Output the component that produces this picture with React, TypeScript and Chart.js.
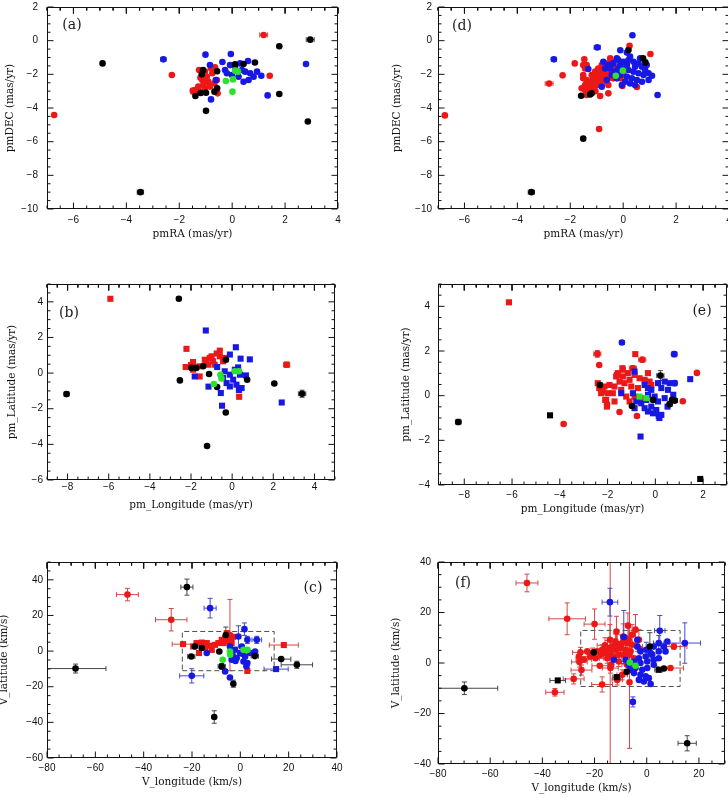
import React, { useEffect, useRef } from "react";
import { Chart, registerables } from "chart.js";

Chart.register(...registerables);

// Each point: [x, y, xError?, yError?]
type P = number[];

// ---------- (a) pmRA / pmDEC, first sample ----------
const aBlack: P[] = [
  [-4.9, -1.35], [-3.47, -9.0, 0.12, 0], [2.95, 0.06, 0.15, 0.05], [1.78, -0.33], [1.78, -3.17],
  [2.86, -4.8], [-0.99, -4.17], [0.86, -1.3], [-1.39, -3.29], [-1.19, -3.11], [-0.99, -3.09],
  [-0.67, -3.03], [-0.57, -2.83], [-1.15, -2.0], [-0.57, -1.82], [0.11, -1.4], [0.43, -1.39], [-1.1, -1.75],
];
const aRed: P[] = [
  [-6.73, -4.42, 0.06, 0], [1.19, 0.34, 0.15, 0], [-2.28, -2.04], [1.42, -2.08],
  [-1.25, -1.74], [-1.03, -1.84], [-0.8, -1.64], [-0.65, -1.58], [-0.75, -1.94], [-0.96, -2.14],
  [-1.13, -2.34], [-0.9, -2.44], [-1.09, -2.63], [-1.28, -2.73], [-1.41, -2.93], [-1.22, -3.03],
  [-1.03, -2.83], [-0.84, -2.73], [-0.67, -2.53], [-0.58, -2.34], [-1.47, -3.03], [-0.55, -3.13],
  [-1.49, -2.97], [-1.2, -2.2], [-1.05, -2.45],
];
const aBlue: P[] = [
  [-2.6, -1.11, 0.1, 0], [-1.01, -0.83], [-0.05, -0.79], [-0.37, -1.27], [0.6, -1.21], [2.79, -1.39],
  [1.34, -3.25], [1.1, -2.08], [-0.8, -3.49], [-0.84, -1.45], [-0.62, -2.34],
  [-0.27, -1.74], [-0.08, -1.45], [0.11, -1.55], [0.3, -1.35], [0.49, -1.84], [0.68, -1.94],
  [0.81, -2.14], [0.62, -2.34], [0.43, -2.44], [0.24, -2.14], [-0.01, -2.04], [-0.2, -1.94],
  [0.37, -1.74], [0.94, -1.84],
];
const aGreen: P[] = [[0.11, -1.78], [0.22, -1.84], [-0.24, -2.4], [0.03, -2.3], [0.01, -3.03]];

// ---------- (d) pmRA / pmDEC, full sample ----------
const dBlack: P[] = [
  [-3.47, -9.0, 0.12, 0], [-1.51, -5.82], [-1.59, -3.27], [-1.19, -3.13], [0.2, -0.55],
  [0.75, -1.05], [0.84, -1.29], [-1.25, -3.2],
];
const dRed: P[] = [
  [-6.74, -4.44, 0.06, 0], [-0.91, -5.25], [-2.8, -2.55, 0.15, 0], [-2.29, -2.06], [-1.83, -1.35],
  [-1.47, -1.11], [-1.51, -1.45], [0.24, -0.3], [1.03, -0.79], [0.52, -2.75], [-0.03, -2.69],
  [-0.56, -3.13], [-0.87, -3.29], [-0.56, -2.63],
  [-1.44, -2.93], [-1.32, -2.83], [-1.19, -2.73], [-1.25, -2.44], [-1.13, -2.54], [-1.0, -2.44],
  [-1.06, -2.24], [-0.94, -2.14], [-0.81, -2.04], [-0.87, -1.84], [-0.75, -1.74], [-0.62, -1.65],
  [-0.68, -1.45], [-0.56, -1.35], [-0.43, -1.25], [-0.49, -1.55], [-0.37, -1.45], [-0.3, -1.65],
  [-0.43, -1.84], [-0.62, -2.04], [-0.75, -2.24], [-0.87, -2.34], [-1.0, -2.64], [-1.13, -2.93],
  [-1.32, -3.13], [-1.19, -3.03], [-1.44, -2.64], [-1.38, -2.34], [-1.19, -2.04], [-1.06, -1.84],
  [-0.94, -1.65], [-0.81, -1.45], [-1.51, -2.04], [-1.44, -1.65], [-1.38, -3.23], [-0.81, -2.54],
  [-0.68, -1.94], [-0.49, -1.05], [-0.24, -1.84], [-0.11, -2.24], [0.01, -2.04], [-0.37, -2.24],
  [-0.56, -2.24], [-1.38, -1.45], [-1.51, -2.24], [-1.57, -2.83], [-1.3, -2.6], [-1.1, -2.7],
  [-0.9, -2.6], [-0.7, -2.4], [-0.5, -2.0], [-0.95, -1.95], [-1.15, -2.35], [-1.25, -2.85],
  [-1.05, -3.0], [-0.7, -1.8], [-0.55, -1.7], [-0.4, -1.55],
];
const dBlue: P[] = [
  [-2.62, -1.11, 0.1, 0], [-0.98, -0.4, 0.12, 0], [0.35, 0.32], [-0.11, -0.57], [0.14, -0.71],
  [1.3, -3.23], [1.09, -2.08], [-1.32, -1.68], [-0.81, -2.74], [-0.62, -2.34],
  [-0.75, -1.25], [-0.56, -1.45], [-0.37, -1.35], [-0.18, -1.15], [0.01, -1.25], [0.2, -1.15],
  [0.39, -1.25], [0.58, -1.35], [0.71, -1.55], [0.83, -1.74], [0.96, -1.94], [0.77, -2.04],
  [0.58, -1.94], [0.39, -1.84], [0.2, -1.74], [0.01, -1.65], [-0.18, -1.65], [-0.3, -1.84],
  [-0.11, -2.04], [0.14, -2.14], [0.33, -2.24], [0.52, -2.34], [0.71, -2.44], [0.45, -2.64],
  [0.26, -2.54], [0.07, -2.44], [-0.24, -2.24], [0.89, -1.45], [0.64, -1.05], [0.26, -0.95],
  [-0.49, -1.65], [-0.11, -1.45], [0.14, -1.45], [0.45, -1.55], [-0.05, -2.64], [-0.24, -1.05],
  [-0.68, -1.65], [-0.43, -2.04], [0.96, -2.34],
];
const dGreen: P[] = [[-0.01, -1.78], [-0.28, -2.08]];

// ---------- (b) pm_Longitude / pm_Latitude, first sample ----------
const bBlack: P[] = [
  [-2.59, 4.17], [-8.05, -1.18, 0.12, 0.12], [3.4, -1.16, 0.18, 0.2], [2.05, -0.58], [-0.31, -2.21],
  [-1.22, -4.09], [-2.54, -0.41], [-1.12, -0.05], [-0.73, -0.78], [0.73, -0.37], [-1.74, 0.29],
  [-1.41, 0.38], [-1.98, 0.29], [-0.3, 0.75],
];
const bRed: P[] = [
  [-5.92, 4.17], [-2.22, 1.36], [2.65, 0.47, 0.15, 0.15], [0.34, -1.33], [-2.26, 0.34], [-1.9, 0.62],
  [-1.9, 0.19], [-1.58, 0.38], [-1.58, -0.19], [-1.33, 0.75], [-1.09, 0.85], [-0.93, 0.66],
  [-0.6, 1.26], [-0.6, 0.94], [-1.17, 0.47], [-0.85, 0.47], [-0.44, 0.66], [-0.36, 0.85],
  [-1.0, 0.94], [-1.25, 0.66], [-0.75, 1.1], [-2.0, 0.45],
];
const bBlue: P[] = [
  [-1.28, 2.39, 0.08, 0], [0.18, 1.45], [-0.11, 1.04], [0.41, 0.81], [0.86, 0.77], [-0.73, 0.34],
  [-1.82, -0.19], [-1.15, -0.76], [-0.55, -1.12], [-0.49, -1.83], [2.41, -1.65], [-0.36, 0.1],
  [-0.11, -0.09], [0.13, 0.19], [0.29, 0.32], [0.38, -0.09], [0.05, -0.37], [-0.27, -0.56],
  [-0.11, -0.75], [0.21, -0.65], [0.46, -0.84], [0.67, -0.13], [-0.44, -0.28], [0.33, -0.95],
];
const bGreen: P[] = [[-0.57, -0.09], [-0.52, -0.3], [-0.89, -0.61], [0.13, 0.1], [0.33, 0.1]];

// ---------- (e) pm_Longitude / pm_Latitude, full sample ----------
const eBlack: P[] = [
  [-8.25, -1.18, 0.12, 0.12], [0.21, 0.9, 0.15, 0.22], [0.81, -0.22, 0.12, 0.1], [0.6, -0.38, 0.1, 0.08],
  [-0.98, -0.46], [-2.32, 0.48, 0.1, 0.08], [0.7, -0.19], [-0.1, -0.19],
];
const eBlackSq: P[] = [[-4.41, -0.88], [1.88, -3.73]];
const eRed: P[] = [
  [-2.43, 1.87, 0.15, 0.15], [-2.35, 1.37], [-3.84, -1.27], [1.74, 1.02], [1.15, -0.25],
  [-1.5, -0.73], [-0.77, -0.91], [-0.55, 1.61, 0.15, 0.12], [-0.94, 1.23, 0.15, 0.12],
];
const eRedSq: P[] = [
  [-6.13, 4.18], [-0.84, 1.86],
  [-1.57, 1.01], [-1.36, 0.86], [-1.15, 1.01], [-0.87, 0.93], [-0.66, 0.78], [-0.45, 0.71],
  [-0.24, 0.63], [-1.5, 0.63], [-1.29, 0.56], [-1.08, 0.71], [-1.01, 0.41], [-0.73, 0.34],
  [-1.43, 0.26], [-1.71, 0.41], [-1.92, 0.48], [-2.13, 0.41], [-2.35, 0.34], [-2.41, 0.56],
  [-2.27, 0.11], [-1.99, 0.11], [-2.06, -0.19], [-2.02, -0.41], [-1.71, -0.26], [-1.22, -0.04],
  [-0.87, -0.04], [-1.08, -0.26], [-0.59, -0.11], [-1.78, 0.11], [-1.64, 0.86], [-1.36, 1.16],
  [-0.31, 1.01], [-0.17, 0.48], [-2.2, 0.18], [-2.1, -0.19], [-2.03, -0.49], [-1.61, 0.93],
  [-1.38, 1.23],
];
const eBlue: P[] = [[-1.4, 2.38, 0.1, 0.08], [0.79, 1.86, 0.12, 0.12], [0.81, 0.56, 0.1, 0.12]];
const eBlueSq: P[] = [
  [-0.62, -1.83], [1.46, 0.74], [-0.87, 1.08], [-0.45, 0.48], [-0.17, 0.26], [0.11, 0.56],
  [0.39, 0.63], [0.6, 0.56], [0.25, 0.34], [0.53, 0.26], [0.75, 0.04], [-0.31, 0.04],
  [-0.03, -0.04], [0.11, -0.26], [-0.59, -0.34], [-0.45, -0.56], [-0.17, -0.49], [0.04, -0.64],
  [0.25, -0.86], [-0.1, -0.79], [-0.31, -0.71], [-0.8, -0.26], [-0.87, -0.56], [-1.43, 0.11],
  [-0.94, 0.11], [-0.38, -0.19], [0.39, -0.11], [0.51, -0.49], [-0.31, 0.34], [0.14, -0.91],
  [0.17, -1.0],
];
const eGreenSq: P[] = [[-0.66, -0.04], [-0.38, -0.11]];

// ---------- (c) V_longitude / V_latitude, first sample ----------
const cBlack: P[] = [
  [-68.2, -9.8, 12.6, 2.5], [-22.1, 35.9, 2.5, 4.5], [-10.8, -37, 0, 3.5], [-2.9, -18.3, 0, 2],
  [16.9, -4.5, 4, 0], [23.4, -7.7, 6.5, 2], [-7.7, -8.6, 1.5, 1.5], [-20.3, -3.0, 1.5, 0],
  [6.0, -2.8, 1.5, 0], [-18.8, 2.6], [-16, 1.7], [-8.7, -0.2], [-6, 9, 0, 4.5],
];
const cRed: P[] = [[-46.7, 31.7, 4.5, 3.5], [-28.6, 17.6, 6.5, 6.3], [-4.3, 9, 0, 20]];
const cRedSq: P[] = [
  [18, 3.4, 6, 0], [-23.7, 3.9, 4.5, 0], [2.9, -11.1, 0, 1.5], [-19.5, 2.6], [-18.1, 4.5], [-16, 4.8],
  [-13.9, 4.5], [-12.5, 3], [-10.5, 3.5], [-11.8, 0.7], [-9.1, 4.5], [-7.7, 6.3], [-6.3, 7.3],
  [-5, 7.9], [-4, 6.3], [-7, 4.5], [-3.6, 4.5], [-5.6, 10.1], [-17.1, -1.1], [-14.5, 2],
  [-6, 5.5], [-4.5, 5], [-3, 8],
];
const cBlue: P[] = [
  [-12.5, 24.1, 2.5, 5.5], [-20.1, -13.9, 5, 4], [6.8, 6.3, 2, 2], [1.7, 12.3, 0, 3.5], [-0.8, 8.2, 0, 6],
  [2.9, 6.3, 0, 2], [-4.3, 2.6], [-2.2, 0.7], [-0.1, -1.1], [2, -3], [4.1, -1.1], [6.1, -0.2],
  [0.6, 2.6], [-1.5, -3.9], [-3.6, -4.9], [1.3, -5.8], [2.9, -6.7], [-13.9, -1.1], [-6.3, -11.4],
  [-4.3, -14.8], [-2, -5.5], [-3.2, -2.3], [0.8, -1.5], [2.5, -8.5],
];
const cBlueSq: P[] = [[14.8, -10.1, 5, 0]];
const cGreen: P[] = [[-7.3, -4.9], [-4.3, -0.2], [-4.2, -2], [1.3, 0.7], [3, 0.7]];
const cBoxX = [-24, 14];
const cBoxY = [-11, 11];

// ---------- (f) V_longitude / V_latitude, full sample ----------
const fBlack: P[] = [
  [-69.9, -10, 12.8, 2.5], [15.5, -31.8, 3.5, 3], [-20.3, 4.2, 2, 0], [-7.7, -3.5], [1.2, 6.5, 0, 5.5],
  [6.6, -2.2, 2, 0],
];
const fBlackSq: P[] = [[-34.1, -6.9, 3, 0], [-11.5, -5.6, 1.5, 0], [4.6, -2.7, 1.5, 0]];
const fRed: P[] = [
  [-45.9, 31.7, 4.2, 3.5], [-30.5, 17.5, 7, 6.3], [-20, 15.4, 4, 6], [-35.2, -11.6, 3.5, 1.5],
  [-28, -6.3, 4, 2], [-17.1, -8.5, 4, 3], [-25, -2.8, 4, 2], [-25.8, 0.4, 3, 2], [-25.4, 4.2, 3, 2],
  [-18, -1.1, 3, 0], [-13.9, -2.0, 3, 2], [-9.4, -4.7, 2, 2], [-11.3, -6.7, 2, 2], [-6.6, -7.6],
  [-4.3, 13.2, 0, 6], [-7.2, 14.8, 0, 5], [-11.6, 12.5, 0, 6], [-9, 10.5, 0, 5], [-14.1, 9.2, 0, 6],
  [-6.9, 9.2, 0, 5], [-3, 9.2, 0, 4], [9.1, -2, 5, 0], [10.4, 6.5, 5, 1], [-14, 3.5, 0, 50],
  [-6.6, 3.3, 0, 37.1],
  [-22.8, 4.6, 3, 0], [-20.9, 3.9, 2, 2], [-19, 4.6], [-17.1, 5.2, 3, 2], [-15.1, 5.9, 2, 3],
  [-13.2, 6.5, 2, 3], [-11.3, 7.2, 2, 4], [-9.4, 7.9, 2, 3], [-7.5, 7.9, 2, 3], [-5.6, 7.2],
  [-3.6, 6.5, 2, 2], [-2.4, 5.2], [-21.6, 2.6, 4, 0], [-19.6, 1.9, 3, 0], [-17.7, 3.3], [-15.8, 3.9],
  [-13.9, 4.6], [-11.9, 5.2, 2, 3], [-10, 5.9], [-8.1, 5.2, 2, 2], [-6.2, 4.6], [-12.6, 2.6, 3, 2],
  [-10.7, 3.3], [-8.8, 3.3], [-15.1, 1.9, 3, 2], [-24.1, 1.3, 3, 0], [-26, 2.6], [-10.7, 0.6, 2, 2],
  [-4.9, 1.9], [-13.6, -0.7], [-7.5, -0.7, 2, 2], [-5.6, 11.2, 0, 4], [-12, 8.5, 2, 3], [-8, 9.5],
  [-16, 7, 3, 3],
];
const fBlue: P[] = [
  [-14.1, 24.1, 3, 5.5], [5, 12.8, 2, 6], [14.6, 7.9, 6, 8], [-5.3, -15.4, 0, 2], [-8.8, 10.3, 1, 10.5],
  [-12.6, 1.3],
  [-3.6, 6.5], [-2.4, 4.6], [-0.2, 5.2, 2, 3], [2.7, 6.5], [4.6, 7.9, 2, 3], [6.6, 6.5], [7.2, 4.6],
  [4.6, 4.6], [2.1, 3.3], [-0.4, 2.6], [-3, 1.9], [-4.9, 0.6], [-2.4, 0], [0.2, 0.6], [2.7, 1.3],
  [4.6, 1.9], [-4.3, -2], [-1.7, -2.7], [0.2, -2], [-4.9, -4], [-2.4, -4.7], [-0.4, -5.3],
  [-3, -6.7], [-1.1, -7.3], [1.5, -8.3], [0.8, -6], [-6.2, -2.7], [-6.9, -0.7], [-8.1, 1.3],
  [2.7, -0.7], [1.5, 3.9], [-3.6, 9.2], [7.9, 8.5],
];
const fGreen: P[] = [[-6.5, 0.2], [-4.3, -1.1]];
const fBoxX = [-25.3, 12.8];
const fBoxY = [-9.3, 12.9];

// ---------- tick values ----------
const raTicks = [-6, -4, -2, 0, 2, 4];
const decTicks = [-10, -8, -6, -4, -2, 0, 2];
const bLonTicks = [-8, -6, -4, -2, 0, 2, 4];
const bLatTicks = [-6, -4, -2, 0, 2, 4];
const eLonTicks = [-8, -6, -4, -2, 0, 2];
const eLatTicks = [-4, -2, 0, 2, 4];
const cVlTicks = [-80, -60, -40, -20, 0, 20, 40];
const cVbTicks = [-60, -40, -20, 0, 20, 40];
const fVlTicks = [-80, -60, -40, -20, 0, 20];
const fVbTicks = [-40, -20, 0, 20, 40];

const RED = "rgb(236,24,24)";
const RED_BAR = "rgb(214,72,72)";
const BLUE = "rgb(24,24,228)";
const BLUE_BAR = "rgb(72,72,208)";
const BLACK = "rgb(0,0,0)";
const BLACK_BAR = "rgb(70,70,70)";
const GREEN = "rgb(44,226,44)";
const INK = "#111";

const TICK_FONT = { family: '"Liberation Sans", Arial, sans-serif', size: 10, lineHeight: 1.2 };
const TITLE_FONT = { family: '"DejaVu Serif", serif', size: 10.5, lineHeight: 1.2 };

type Style = "circle" | "rect";
interface Series { pts: P[]; color: string; bar: string; style: Style; order: number }
interface PanelSpec {
  id: string;
  canvas: [number, number, number, number];
  area: [number, number, number, number];
  x: [number, number];
  y: [number, number];
  xTicks: number[];
  yTicks: number[];
  xMajor: number;
  yMajor: number;
  xMinor: number;
  yMinor: number;
  xTitle: string;
  yTitle: string;
  tag: string;
  tagRight: boolean;
  tagDx: number;
  tagDy: number;
  xLabelY: number;
  xTitleY: number;
  yTitleX: number;
  yGap: number;
  series: Series[];
  box?: [number[], number[]];
}

const red = (pts: P[], style: Style = "circle"): Series => ({ pts, color: RED, bar: RED_BAR, style, order: 3 });
const blue = (pts: P[], style: Style = "circle"): Series => ({ pts, color: BLUE, bar: BLUE_BAR, style, order: 2 });
const black = (pts: P[], style: Style = "circle"): Series => ({ pts, color: BLACK, bar: BLACK_BAR, style, order: 1 });
const green = (pts: P[], style: Style = "circle"): Series => ({ pts, color: GREEN, bar: GREEN, style, order: 0 });

const panels: PanelSpec[] = [
  {
    id: "a", canvas: [-10, 0, 374, 250], area: [47, 7, 338, 209],
    x: [-7, 4], y: [-10, 2], xTicks: raTicks, yTicks: decTicks, xMajor: 2, yMajor: 2, xMinor: 0.5, yMinor: 0.5,
    xTitle: "pmRA (mas/yr)", yTitle: "pmDEC (mas/yr)", tag: "(a)", tagRight: false, tagDx: 25, tagDy: 18,
    xLabelY: 220, xTitleY: 234, yTitleX: 10, yGap: 9,
    series: [red(aRed), black(aBlack), blue(aBlue), green(aGreen)],
  },
  {
    id: "d", canvas: [364, 0, 400, 250], area: [438, 7, 729, 209],
    x: [-7, 4], y: [-10, 2], xTicks: raTicks, yTicks: decTicks, xMajor: 2, yMajor: 2, xMinor: 0.5, yMinor: 0.5,
    xTitle: "pmRA (mas/yr)", yTitle: "pmDEC (mas/yr)", tag: "(d)", tagRight: false, tagDx: 24, tagDy: 19,
    xLabelY: 220, xTitleY: 234, yTitleX: 397, yGap: 6,
    series: [red(dRed), black(dBlack), blue(dBlue), green(dGreen)],
  },
  {
    id: "b", canvas: [-10, 250, 374, 275], area: [47, 284, 335, 480],
    x: [-9, 5], y: [-6, 5], xTicks: bLonTicks, yTicks: bLatTicks, xMajor: 2, yMajor: 2, xMinor: 0.5, yMinor: 0.5,
    xTitle: "pm_Longitude (mas/yr)", yTitle: "pm_Latitude (mas/yr)", tag: "(b)", tagRight: false, tagDx: 22, tagDy: 29,
    xLabelY: 487.5, xTitleY: 505.5, yTitleX: 12.5, yGap: 4,
    series: [red(bRed, "rect"), black(bBlack), blue(bBlue, "rect"), green(bGreen)],
  },
  {
    id: "e", canvas: [364, 250, 380, 275], area: [438, 284, 727, 485],
    x: [-9.1, 3], y: [-4, 5], xTicks: eLonTicks, yTicks: eLatTicks, xMajor: 2, yMajor: 2, xMinor: 0.5, yMinor: 0.5,
    xTitle: "pm_Longitude (mas/yr)", yTitle: "pm_Latitude (mas/yr)", tag: "(e)", tagRight: true, tagDx: 25, tagDy: 27,
    xLabelY: 495, xTitleY: 509.3, yTitleX: 406, yGap: 8,
    series: [
      red(eRedSq, "rect"), red(eRed), black(eBlack), black(eBlackSq, "rect"),
      blue(eBlueSq, "rect"), blue(eBlue), green(eGreenSq, "rect"),
    ],
  },
  {
    id: "c", canvas: [-10, 530, 374, 268], area: [47, 562, 337, 758],
    x: [-80, 40], y: [-60, 50], xTicks: cVlTicks, yTicks: cVbTicks, xMajor: 20, yMajor: 20, xMinor: 5, yMinor: 5,
    xTitle: "V_longitude (km/s)", yTitle: "V_latitude (km/s)", tag: "(c)", tagRight: true, tagDx: 24, tagDy: 26,
    xLabelY: 768, xTitleY: 782, yTitleX: 4, yGap: 4,
    series: [red(cRedSq, "rect"), red(cRed), black(cBlack), blue(cBlue), blue(cBlueSq, "rect"), green(cGreen)],
    box: [cBoxX, cBoxY],
  },
  {
    id: "f", canvas: [364, 530, 380, 268], area: [438, 562, 725, 764],
    x: [-80, 30], y: [-40, 40], xTicks: fVlTicks, yTicks: fVbTicks, xMajor: 20, yMajor: 20, xMinor: 5, yMinor: 5,
    xTitle: "V_longitude (km/s)", yTitle: "V_latitude (km/s)", tag: "(f)", tagRight: false, tagDx: 25, tagDy: 21,
    xLabelY: 774, xTitleY: 788, yTitleX: 396, yGap: 7,
    series: [red(fRed), black(fBlack), black(fBlackSq, "rect"), blue(fBlue), green(fGreen)],
    box: [fBoxX, fBoxY],
  },
];

const fmt = (v: number | string) => {
  const n = Number(v);
  return n < 0 ? "\u2212" + Math.abs(n) : String(n);
};

type XY = { x: number; y: number | null };

// Outline of the plot box plus inward major/minor ticks on all four sides,
// expressed in data units so the library's scales place every segment.
function frameSegments(spec: PanelSpec): XY[] {
  const [al, at, ar, ab] = spec.area;
  const [x0, x1] = spec.x;
  const [y0, y1] = spec.y;
  const ux = (x1 - x0) / (ar - al);
  const uy = (y1 - y0) / (ab - at);
  const out: XY[] = [];
  const gap = (x: number) => out.push({ x, y: null });
  const each = (min: number, max: number, minor: number, major: number, fn: (v: number, len: number) => void) => {
    const n0 = Math.ceil(min / minor - 1e-6);
    const n1 = Math.floor(max / minor + 1e-6);
    for (let n = n0; n <= n1; n++) {
      const v = n * minor;
      const r = v / major;
      fn(v, Math.abs(r - Math.round(r)) < 1e-6 ? 6 : 3);
    }
  };
  const fx0 = x0 + 0.5 * ux;
  const fx1 = x1 - 0.5 * ux;
  const fy0 = y0 + 0.5 * uy;
  const fy1 = y1 - 0.5 * uy;
  out.push({ x: fx0, y: fy0 }, { x: fx1, y: fy0 }, { x: fx1, y: fy1 }, { x: fx0, y: fy1 }, { x: fx0, y: fy0 });
  gap(fx0);
  each(x0, x1, spec.xMinor, spec.xMajor, (v, len) => {
    out.push({ x: v, y: fy0 }, { x: v, y: fy0 + len * uy });
    gap(v);
    out.push({ x: v, y: fy1 }, { x: v, y: fy1 - len * uy });
    gap(v);
  });
  each(y0, y1, spec.yMinor, spec.yMajor, (v, len) => {
    out.push({ x: fx0, y: v }, { x: fx0 + len * ux, y: v });
    gap(fx0);
    out.push({ x: fx1, y: v }, { x: fx1 - len * ux, y: v });
    gap(fx1);
  });
  return out;
}

// Error bars with end caps under the markers, and the panel tag on top.
function makeDecorPlugin(spec: PanelSpec) {
  return {
    id: "decor" + spec.id,
    beforeDatasetsDraw(chart: any) {
      const { ctx, chartArea: a } = chart;
      const xs = chart.scales.x;
      const ys = chart.scales.y;
      const cap = 2.5;
      ctx.save();
      ctx.setLineDash([]);
      ctx.lineWidth = 1;
      ctx.beginPath();
      ctx.rect(a.left, a.top, a.right - a.left, a.bottom - a.top);
      ctx.clip();
      chart.data.datasets.forEach((ds: any) => {
        if (!ds.errColor) return;
        ctx.strokeStyle = ds.errColor;
        ctx.beginPath();
        for (const p of ds.data) {
          const px = xs.getPixelForValue(p.x);
          const py = ys.getPixelForValue(p.y);
          if (p.ex) {
            const x0 = xs.getPixelForValue(p.x - p.ex);
            const x1 = xs.getPixelForValue(p.x + p.ex);
            ctx.moveTo(x0, py); ctx.lineTo(x1, py);
            ctx.moveTo(x0, py - cap); ctx.lineTo(x0, py + cap);
            ctx.moveTo(x1, py - cap); ctx.lineTo(x1, py + cap);
          }
          if (p.ey) {
            const y0 = ys.getPixelForValue(p.y - p.ey);
            const y1 = ys.getPixelForValue(p.y + p.ey);
            ctx.moveTo(px, y0); ctx.lineTo(px, y1);
            ctx.moveTo(px - cap, y0); ctx.lineTo(px + cap, y0);
            ctx.moveTo(px - cap, y1); ctx.lineTo(px + cap, y1);
          }
        }
        ctx.stroke();
      });
      ctx.restore();
    },
    afterDraw(chart: any) {
      const { ctx, chartArea: a } = chart;
      ctx.save();
      ctx.font = '14px "DejaVu Serif", serif';
      ctx.fillStyle = "#1a1a1a";
      ctx.textAlign = "center";
      ctx.textBaseline = "middle";
      const cx = spec.tagRight ? a.right - spec.tagDx : a.left + spec.tagDx;
      ctx.fillText(spec.tag, cx, a.top + spec.tagDy);
      ctx.restore();
    },
  };
}

function Panel({ spec }: { spec: PanelSpec }) {
  const ref = useRef<HTMLCanvasElement>(null);
  const [cl, ct, cw, ch] = spec.canvas;

  useEffect(() => {
    const [al, at, ar, ab] = spec.area;
    const datasets: any[] = spec.series.map((s) => ({
      data: s.pts.map(([x, y, ex = 0, ey = 0]) => ({ x, y, ex, ey })),
      backgroundColor: s.color,
      borderColor: s.color,
      borderWidth: 0,
      pointStyle: s.style,
      pointRadius: s.style === "rect" ? 4.3 : 3.3,
      errColor: s.bar,
      order: s.order,
    }));
    if (spec.box) {
      const [bx, by] = spec.box;
      datasets.push({
        data: [
          { x: bx[0], y: by[0] }, { x: bx[1], y: by[0] }, { x: bx[1], y: by[1] },
          { x: bx[0], y: by[1] }, { x: bx[0], y: by[0] },
        ],
        showLine: true,
        borderColor: "rgb(80,80,80)",
        borderWidth: 1,
        borderDash: [5, 3],
        pointRadius: 0,
        fill: false,
        order: 9,
      });
    }
    datasets.push({
      data: frameSegments(spec),
      showLine: true,
      spanGaps: false,
      borderColor: "#111",
      borderWidth: 1,
      pointRadius: 0,
      fill: false,
      clip: false,
      order: -1,
    });
    const chart = new Chart(ref.current as HTMLCanvasElement, {
      type: "scatter",
      data: { datasets },
      plugins: [makeDecorPlugin(spec)],
      options: {
        responsive: false,
        maintainAspectRatio: false,
        animation: false,
        devicePixelRatio: 1,
        events: [],
        layout: { padding: { left: 0, top: at - ct, right: cl + cw - ar, bottom: 0 } },
        plugins: {
          legend: { display: false },
          tooltip: { enabled: false },
        },
        scales: {
          x: {
            type: "linear",
            min: spec.x[0],
            max: spec.x[1],
            grid: { display: false, drawTicks: false },
            border: { display: false },
            afterBuildTicks: (s: any) => { s.ticks = spec.xTicks.map((value) => ({ value })); },
            afterFit: (s: any) => {
              s.height = ct + ch - ab;
              s.paddingLeft = 0;
              s.paddingRight = 0;
            },
            ticks: {
              autoSkip: false, maxRotation: 0, minRotation: 0,
              padding: spec.xLabelY - ab - 6, font: TICK_FONT, color: INK, callback: fmt,
            },
            title: {
              display: true, text: spec.xTitle, font: TITLE_FONT, color: INK,
              padding: { top: 0, bottom: ct + ch - spec.xTitleY - 6.3 },
            },
          },
          y: {
            type: "linear",
            min: spec.y[0],
            max: spec.y[1],
            grid: { display: false, drawTicks: false },
            border: { display: false },
            afterBuildTicks: (s: any) => { s.ticks = spec.yTicks.map((value) => ({ value })); },
            afterFit: (s: any) => {
              s.width = al - cl;
              s.paddingTop = 0;
              s.paddingBottom = 0;
            },
            ticks: { autoSkip: false, padding: spec.yGap, font: TICK_FONT, color: INK, callback: fmt },
            title: {
              display: true, text: spec.yTitle, font: TITLE_FONT, color: INK,
              padding: { top: spec.yTitleX - cl - 6.3, bottom: 0 },
            },
          },
        },
      } as any,
    });
    return () => chart.destroy();
  }, [spec]);

  return (
    <canvas
      ref={ref}
      width={cw}
      height={ch}
      style={{ position: "absolute", left: cl, top: ct, width: cw, height: ch }}
    />
  );
}

export default function App() {
  return (
    <div
      style={{
        position: "absolute",
        left: 0,
        top: 0,
        width: 728,
        height: 798,
        overflow: "hidden",
        background: "#fff",
      }}
    >
      {panels.map((p) => (
        <Panel key={p.id} spec={p} />
      ))}
    </div>
  );
}
